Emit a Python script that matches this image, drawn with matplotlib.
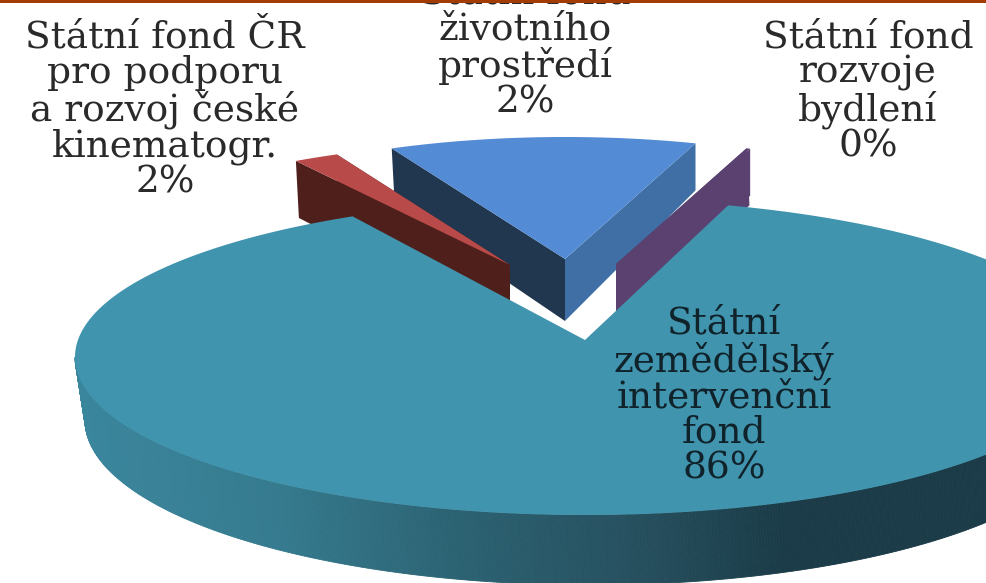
import numpy as np
import matplotlib
matplotlib.use("Agg")
import matplotlib.pyplot as plt
from matplotlib.patches import Polygon, Rectangle
from matplotlib.colors import LinearSegmentedColormap

# Labels as printed, and slice sizes as drawn (share of the circle)
names = ["Státní fond\nživotního\nprostředí", "Státní fond\nrozvoje\nbydlení",
         "Státní\nzemědělský\nintervenční\nfond",
         "Státní fond ČR\npro podporu\na rozvoj české\nkinematogr."]
printed_pct = [2, 0, 86, 2]
drawn_share = [12.1, 0.15, 85.95, 1.8]
top_colors = ["#538bd4", "#5a4170", "#4094ae", "#b84b4a"]
left_colors = ["#21364f", "#5a4170", "#38839a", "#4f1f1b"]
right_colors = ["#3f6fa4", "#5a4170", "#1a3b47", "#4f1f1b"]
text_colors = ["#2a2a2a", "#2a2a2a", "#10222a", "#2a2a2a"]
apexes = [(565, 259), (616, 264), (585, 340), (510, 265)]
label_xy = [(525, 48), (868, 92), (724, 396), (165, 110)]

START = -25.0
edges = START + np.cumsum([0] + drawn_share) * 3.6

fig = plt.figure(figsize=(9.87, 5.83), dpi=100, facecolor="white")
ax = fig.add_axes([0, 0, 1, 1])
ax.set_xlim(0, 987)
ax.set_ylim(583, 0)
ax.axis("off")


def small_slice(i):
    ax_, ay = apexes[i]
    t1, t2 = np.radians(edges[i]), np.radians(edges[i + 1])
    t = np.linspace(t1, t2, 60)
    x = ax_ + 410 * np.sin(t)
    y = ay - 122 * np.cos(t)
    far, near = 57, 62
    left = [(x[0], y[0]), (ax_, ay), (ax_, ay + near), (x[0] + 3, y[0] + far)]
    right = [(x[-1], y[-1]), (ax_, ay), (ax_, ay + near), (x[-1], y[-1] + far - 10)]
    ax.add_patch(Polygon(right, fc=right_colors[i], ec="none", zorder=2))
    ax.add_patch(Polygon(left, fc=left_colors[i], ec="none", zorder=2))
    ax.add_patch(Polygon(np.r_[[(ax_, ay)], np.c_[x, y]], fc=top_colors[i], ec="none", zorder=2))


for i in (0, 1, 3):
    small_slice(i)

# Large slice: arc on a flattened ellipse seen from the apex
CX, CY, A, B = 585, 357, 510, 158
BX, BY, BA, BB = 590, 420, 505, 165
ax_t, ay_t = apexes[2]
t_big = np.radians(np.linspace(edges[2], edges[3], 400))
dx = 485 * np.sin(t_big)
dy = -B * np.cos(t_big)
rx, ry = ax_t - CX, ay_t - CY
qa = (dx / A) ** 2 + (dy / B) ** 2
qb = 2 * (rx * dx / A ** 2 + ry * dy / B ** 2)
qc = (rx / A) ** 2 + (ry / B) ** 2 - 1
s = (-qb + np.sqrt(qb ** 2 - 4 * qa * qc)) / (2 * qa)
arc_x, arc_y = ax_t + s * dx, ay_t + s * dy

# Rim, from the left extreme round the front to the right, shaded along x
cmap = LinearSegmentedColormap.from_list(
    "rim", [(0, "#3a869d"), (0.22, "#357a8e"), (0.42, "#2b6272"),
            (0.62, "#264f5e"), (0.78, "#1a3b47"), (1, "#1a3b47")])
u = np.radians(np.linspace(90, 270, 500))
tx, ty = CX + A * np.sin(u), CY - B * np.cos(u)
bx, by = BX + BA * np.sin(u), BY - BB * np.cos(u)
for j in range(len(u) - 1):
    poly = [(tx[j], ty[j]), (tx[j + 1], ty[j + 1]), (bx[j + 1], by[j + 1]), (bx[j], by[j])]
    c = cmap(np.clip((tx[j] - 75) / 912, 0, 1))
    ax.add_patch(Polygon(poly, fc=c, ec=c, lw=0.6, zorder=3))

ax.add_patch(Polygon(np.r_[[(ax_t, ay_t)], np.c_[arc_x, arc_y]],
                     fc=top_colors[2], ec="none", zorder=4))

for name, pct, (lx, ly), tc in zip(names, printed_pct, label_xy, text_colors):
    ax.text(lx, ly, f"{name}\n{pct}%", ha="center", va="center", ma="center",
            family="DejaVu Serif", fontsize=27, color=tc,
            linespacing=0.98, zorder=6, clip_on=True)

ax.add_patch(Rectangle((0, 0), 987, 3, fc="#a33c00", ec="none", zorder=7))

fig.savefig("out.png", dpi=100)
